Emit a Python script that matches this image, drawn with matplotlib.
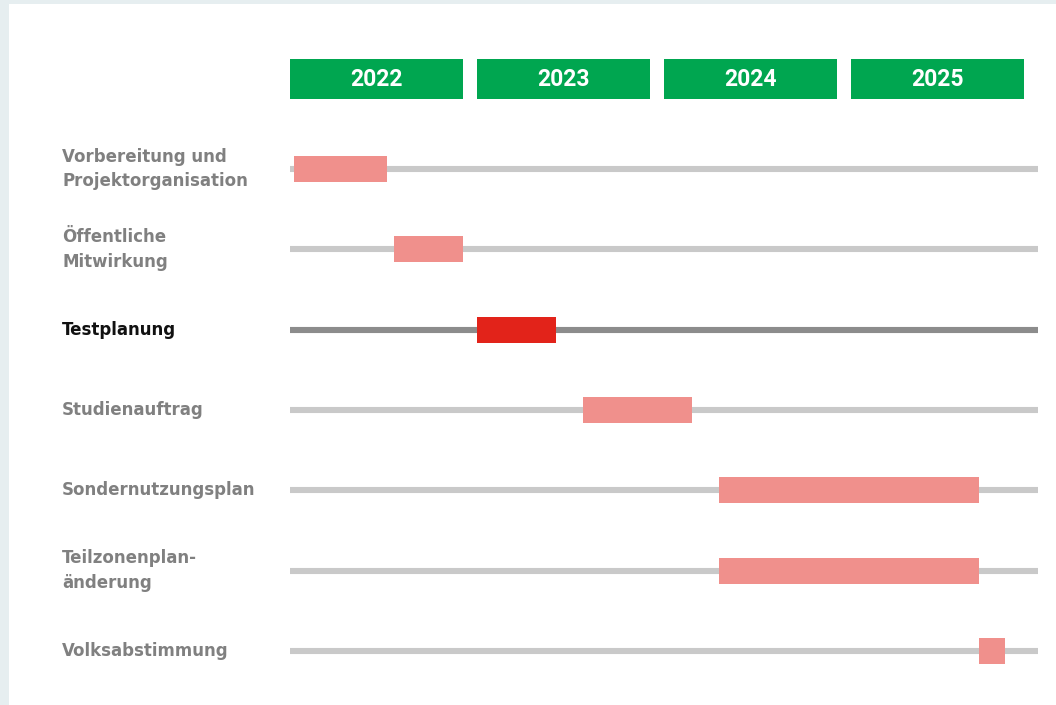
import matplotlib.pyplot as plt
from matplotlib.patches import Rectangle

# phases (start / end in months since Jan 2022)
tasks = ["Vorbereitung und\nProjektorganisation", "Öffentliche\nMitwirkung", "Testplanung",
         "Studienauftrag", "Sondernutzungsplan", "Teilzonenplan-\nänderung", "Volksabstimmung"]
starts = [0.25, 6.7, 12.0, 18.8, 27.5, 27.5, 44.2]
ends = [6.2, 11.1, 17.1, 25.8, 44.2, 44.2, 45.9]
highlight = "Testplanung"

years = ["2022", "2023", "2024", "2025"]
months_per_year = 12

W, H = 1056, 705
px_month = 187 / 12.0
x0_px = 290
row_px = 80.33
y0_px = 169

fig = plt.figure(figsize=(W / 100, H / 100), dpi=100)
fig.patch.set_facecolor("#e6eef0")
fig.patches.append(Rectangle((9 / W, 0), 1 - 9 / W, 1 - 4 / H, transform=fig.transFigure,
                             facecolor="white", edgecolor="none", zorder=-5))

ax = fig.add_axes([0, 0, 1, 1])
ax.set_zorder(1)
ax.set_facecolor("none")
ax.set_xlim(-x0_px / px_month, (W - x0_px) / px_month)
ax.set_ylim((H - y0_px) / row_px, -y0_px / row_px)
ax.axis("off")

# year headers
for i, yr in enumerate(years):
    left = i * months_per_year
    ax.add_patch(Rectangle((left, -1.12 - 0.245), 173 / px_month, 0.49,
                           facecolor="#00a650", edgecolor="none"))
    ax.text(left + 173 / px_month / 2, -1.12, yr, ha="center", va="center",
            color="white", fontsize=16.5, fontweight="bold", family=["Roboto", "DejaVu Sans"])

total = len(years) * months_per_year
for i, (name, s, e) in enumerate(zip(tasks, starts, ends)):
    hl = name == highlight
    ax.plot([0, total], [i, i], color="#8c8c8c" if hl else "#c9c9c9", lw=4.4,
            solid_capstyle="butt", zorder=1)
    ax.add_patch(Rectangle((s, i - 0.162), e - s, 0.324,
                           facecolor="#e2231a" if hl else "#f0908c", edgecolor="none", zorder=2))
    ax.text(-228 / px_month, i, name, ha="left", va="center",
            color="#111111" if hl else "#808080", fontsize=12, fontweight="bold",
            linespacing=1.5, family="DejaVu Sans")

fig.savefig("out.png", dpi=100)
